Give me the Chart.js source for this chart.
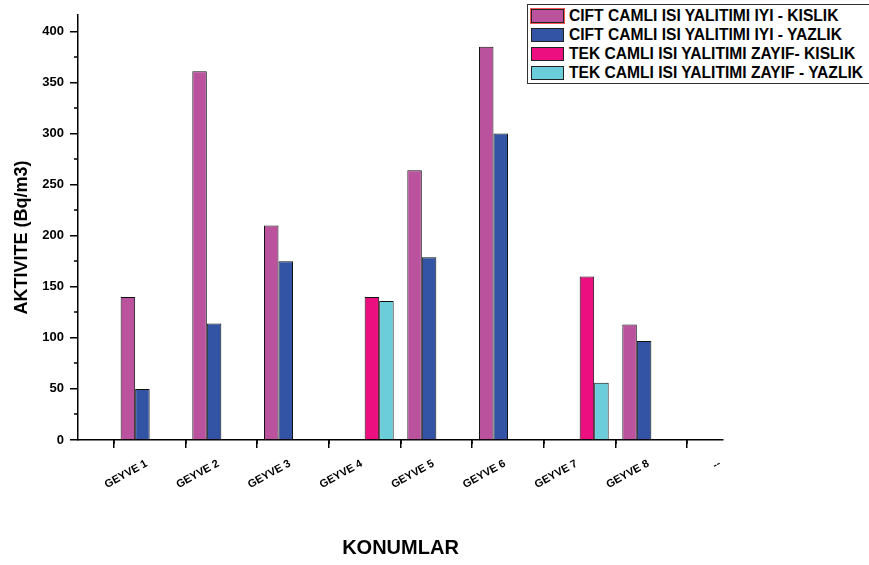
<!DOCTYPE html>
<html>
<head>
<meta charset="utf-8">
<script src="https://cdn.jsdelivr.net/npm/chart.js@4.4.1/dist/chart.umd.min.js"></script>
<style>
  html, body { margin: 0; padding: 0; background: #fff; overflow: hidden; }
  #wrap { position: relative; width: 869px; height: 565px; overflow: hidden; }
  #legend {
    position: absolute; left: 527px; top: 4px; width: 400px;
    border: 1.5px solid #333; border-right: none; background: #fff; padding: 1px 0 1px 3px;
    font: bold 15.6px 'Liberation Sans', Arial, sans-serif; color: #000;
  }
  .row { height: 19px; display: flex; align-items: center; white-space: nowrap; }
  .sw { width: 31px; height: 12px; border: 1px solid #222; margin-right: 5px; flex: none; }
</style>
</head>
<body>
<div id="wrap">
  <canvas id="chart" width="869" height="565"></canvas>
  <div id="legend"></div>
</div>
<script>
// kategoriler (ilk bos etiket eksen baslangici icin)
var categories = ['', 'GEYVE 1', 'GEYVE 2', 'GEYVE 3', 'GEYVE 4', 'GEYVE 5', 'GEYVE 6', 'GEYVE 7', 'GEYVE 8', '--'];

var ciftKislik = [null, 140, 361, 210, null, 264, 385, null, 113, null];
var ciftYazlik = [null, 50, 114, 175, null, 179, 300, null, 97, null];
var tekKislik  = [null, null, null, null, 140, null, null, 160, null, null];
var tekYazlik  = [null, null, null, null, 136, null, null, 56, null, null];

var seriesNames = [
    'CIFT CAMLI ISI YALITIMI IYI - KISLIK',
    'CIFT CAMLI ISI YALITIMI IYI - YAZLIK',
    'TEK CAMLI ISI YALITIMI ZAYIF- KISLIK',
    'TEK CAMLI ISI YALITIMI ZAYIF - YAZLIK'
];
var seriesColors = ['#BA529E', '#3354A5', '#EC0F80', '#6BCCDA'];

Chart.defaults.font.family = "'Liberation Sans', Arial, sans-serif";
Chart.defaults.color = '#000';

// ara (minor) tik isaretleri
var minorTicks = {
    id: 'minorTicks',
    afterDraw: function (chart) {
        var ctx = chart.ctx, xs = chart.scales.x, ys = chart.scales.y;
        ctx.save();
        ctx.strokeStyle = '#000';
        ctx.lineWidth = 1.5;
        ctx.beginPath();
        for (var i = 0; i < categories.length - 1; i++) {
            var px = Math.round((xs.getPixelForTick(i) + xs.getPixelForTick(i + 1)) / 2);
            ctx.moveTo(px, xs.top);
            ctx.lineTo(px, xs.top + 4);
        }
        for (var v = 25; v < ys.max; v += 50) {
            var py = Math.round(ys.getPixelForValue(v));
            ctx.moveTo(ys.right, py);
            ctx.lineTo(ys.right - 4, py);
        }
        ctx.stroke();
        ctx.restore();
    }
};

var datasets = [ciftKislik, ciftYazlik, tekKislik, tekYazlik].map(function (d, i) {
    return {
        label: seriesNames[i],
        data: d,
        backgroundColor: seriesColors[i],
        borderColor: '#111',
        borderWidth: 1,
        barPercentage: 1.0,
        categoryPercentage: 0.81
    };
});

var ctx = document.getElementById('chart').getContext('2d');
var chart = new Chart(ctx, {
    type: 'bar',
    data: { labels: categories, datasets: datasets },
    options: {
        responsive: false,
        animation: false,
        layout: { padding: { top: 15, right: 146, left: 0, bottom: 0 } },
        plugins: { legend: { display: false }, tooltip: { enabled: false } },
        scales: {
            x: {
                offset: false,
                grid: { display: true, drawOnChartArea: false, drawTicks: true, tickLength: 8, color: '#000', lineWidth: 1.5 },
                border: { color: '#000', width: 1.5 },
                ticks: {
                    autoSkip: false, maxRotation: 29, minRotation: 29, padding: 9, labelOffset: -3,
                    font: { size: 11, weight: 'bold' }
                },
                title: { display: true, text: 'KONUMLAR', font: { size: 20, weight: 'bold' }, padding: { top: 0, bottom: 5 } },
                afterFit: function (s) { s.height = 125; }
            },
            y: {
                min: 0, max: 416,
                grid: { display: true, drawOnChartArea: false, drawTicks: true, tickLength: 8, color: '#000', lineWidth: 1.5 },
                border: { color: '#000', width: 1.5 },
                ticks: { stepSize: 50, padding: 6, font: { size: 13, weight: 'bold' } },
                afterBuildTicks: function (s) { s.ticks = s.ticks.filter(function (t) { return t.value % 50 === 0; }); },
                title: { display: true, text: 'AKTIVITE (Bq/m3)\u00a0\u00a0\u00a0\u00a0', font: { size: 18, weight: 'bold' }, padding: { top: 11, bottom: 0 } },
                afterFit: function (s) { s.width = 78; }
            }
        }
    },
    plugins: [minorTicks]
});

// lejant
var legend = document.getElementById('legend');
seriesNames.forEach(function (name, i) {
    var row = document.createElement('div');
    row.className = 'row';
    var sw = document.createElement('span');
    sw.className = 'sw';
    sw.style.background = seriesColors[i];
    if (i === 0) sw.style.outline = '1px solid #f55';
    var tx = document.createElement('span');
    tx.textContent = name;
    row.appendChild(sw);
    row.appendChild(tx);
    legend.appendChild(row);
});
</script>
</body>
</html>
